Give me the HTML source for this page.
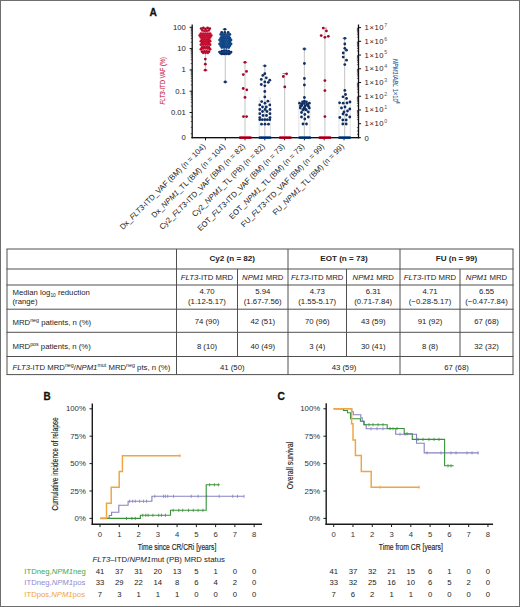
<!DOCTYPE html>
<html><head><meta charset="utf-8"><style>
html,body{margin:0;padding:0;background:#fff;}
body{width:520px;height:607px;overflow:hidden;}
svg{display:block;font-family:"Liberation Sans", sans-serif;}
</style></head><body>
<svg width="520" height="607" viewBox="0 0 520 607">
<rect x="0" y="0" width="520" height="607" fill="#fff"/>
<text transform="translate(149.5,16.2) scale(0.93,1)" font-size="11" font-weight="bold" fill="#111" stroke="#111" stroke-width="0.3">A</text>
<line x1="192.2" y1="24.5" x2="192.2" y2="138.29999999999998" stroke="#111" stroke-width="1.3"/>
<line x1="189.6" y1="27.30" x2="192.2" y2="27.30" stroke="#111" stroke-width="1"/>
<text x="185.89999999999998" y="29.80" font-size="7.7" text-anchor="end" fill="#222">100</text>
<line x1="190.7" y1="42.19" x2="192.2" y2="42.19" stroke="#111" stroke-width="0.6"/>
<line x1="190.7" y1="38.44" x2="192.2" y2="38.44" stroke="#111" stroke-width="0.6"/>
<line x1="190.7" y1="35.78" x2="192.2" y2="35.78" stroke="#111" stroke-width="0.6"/>
<line x1="190.7" y1="33.71" x2="192.2" y2="33.71" stroke="#111" stroke-width="0.6"/>
<line x1="190.7" y1="32.03" x2="192.2" y2="32.03" stroke="#111" stroke-width="0.6"/>
<line x1="190.7" y1="30.60" x2="192.2" y2="30.60" stroke="#111" stroke-width="0.6"/>
<line x1="190.7" y1="29.36" x2="192.2" y2="29.36" stroke="#111" stroke-width="0.6"/>
<line x1="190.7" y1="28.27" x2="192.2" y2="28.27" stroke="#111" stroke-width="0.6"/>
<line x1="189.6" y1="48.60" x2="192.2" y2="48.60" stroke="#111" stroke-width="1"/>
<text x="185.89999999999998" y="51.10" font-size="7.7" text-anchor="end" fill="#222">10</text>
<line x1="190.7" y1="63.49" x2="192.2" y2="63.49" stroke="#111" stroke-width="0.6"/>
<line x1="190.7" y1="59.74" x2="192.2" y2="59.74" stroke="#111" stroke-width="0.6"/>
<line x1="190.7" y1="57.08" x2="192.2" y2="57.08" stroke="#111" stroke-width="0.6"/>
<line x1="190.7" y1="55.01" x2="192.2" y2="55.01" stroke="#111" stroke-width="0.6"/>
<line x1="190.7" y1="53.33" x2="192.2" y2="53.33" stroke="#111" stroke-width="0.6"/>
<line x1="190.7" y1="51.90" x2="192.2" y2="51.90" stroke="#111" stroke-width="0.6"/>
<line x1="190.7" y1="50.66" x2="192.2" y2="50.66" stroke="#111" stroke-width="0.6"/>
<line x1="190.7" y1="49.57" x2="192.2" y2="49.57" stroke="#111" stroke-width="0.6"/>
<line x1="189.6" y1="69.90" x2="192.2" y2="69.90" stroke="#111" stroke-width="1"/>
<text x="185.89999999999998" y="72.40" font-size="7.7" text-anchor="end" fill="#222">1</text>
<line x1="190.7" y1="84.79" x2="192.2" y2="84.79" stroke="#111" stroke-width="0.6"/>
<line x1="190.7" y1="81.04" x2="192.2" y2="81.04" stroke="#111" stroke-width="0.6"/>
<line x1="190.7" y1="78.38" x2="192.2" y2="78.38" stroke="#111" stroke-width="0.6"/>
<line x1="190.7" y1="76.31" x2="192.2" y2="76.31" stroke="#111" stroke-width="0.6"/>
<line x1="190.7" y1="74.63" x2="192.2" y2="74.63" stroke="#111" stroke-width="0.6"/>
<line x1="190.7" y1="73.20" x2="192.2" y2="73.20" stroke="#111" stroke-width="0.6"/>
<line x1="190.7" y1="71.96" x2="192.2" y2="71.96" stroke="#111" stroke-width="0.6"/>
<line x1="190.7" y1="70.87" x2="192.2" y2="70.87" stroke="#111" stroke-width="0.6"/>
<line x1="189.6" y1="91.20" x2="192.2" y2="91.20" stroke="#111" stroke-width="1"/>
<text x="185.89999999999998" y="93.70" font-size="7.7" text-anchor="end" fill="#222">0.1</text>
<line x1="190.7" y1="106.09" x2="192.2" y2="106.09" stroke="#111" stroke-width="0.6"/>
<line x1="190.7" y1="102.34" x2="192.2" y2="102.34" stroke="#111" stroke-width="0.6"/>
<line x1="190.7" y1="99.68" x2="192.2" y2="99.68" stroke="#111" stroke-width="0.6"/>
<line x1="190.7" y1="97.61" x2="192.2" y2="97.61" stroke="#111" stroke-width="0.6"/>
<line x1="190.7" y1="95.93" x2="192.2" y2="95.93" stroke="#111" stroke-width="0.6"/>
<line x1="190.7" y1="94.50" x2="192.2" y2="94.50" stroke="#111" stroke-width="0.6"/>
<line x1="190.7" y1="93.26" x2="192.2" y2="93.26" stroke="#111" stroke-width="0.6"/>
<line x1="190.7" y1="92.17" x2="192.2" y2="92.17" stroke="#111" stroke-width="0.6"/>
<line x1="189.6" y1="112.50" x2="192.2" y2="112.50" stroke="#111" stroke-width="1"/>
<text x="185.89999999999998" y="115.00" font-size="7.7" text-anchor="end" fill="#222">0.01</text>
<text x="185.89999999999998" y="140.20" font-size="7.7" text-anchor="end" fill="#222">0</text>
<line x1="190.7" y1="116.9" x2="192.2" y2="116.9" stroke="#111" stroke-width="0.6"/>
<line x1="190.7" y1="121.5" x2="192.2" y2="121.5" stroke="#111" stroke-width="0.6"/>
<line x1="190.7" y1="127.3" x2="192.2" y2="127.3" stroke="#111" stroke-width="0.6"/>
<line x1="190.7" y1="133.7" x2="192.2" y2="133.7" stroke="#111" stroke-width="0.6"/>
<text transform="translate(165.1,80.8) rotate(-90)" font-size="7.6" text-anchor="middle" fill="#c8203f" stroke="#c8203f" stroke-width="0.12" textLength="47.5" lengthAdjust="spacingAndGlyphs"><tspan font-style="italic">FLT3</tspan>-ITD VAF (%)</text>
<line x1="358.5" y1="24.5" x2="358.5" y2="138.29999999999998" stroke="#111" stroke-width="1.3"/>
<line x1="358.5" y1="123.71" x2="361.1" y2="123.71" stroke="#111" stroke-width="1"/>
<text x="364.5" y="126.21" font-size="7.7" fill="#222" letter-spacing="0.6">1×10<tspan font-size="5.2" dy="-3.2" fill="#555">0</tspan></text>
<line x1="356.9" y1="119.58" x2="358.5" y2="119.58" stroke="#111" stroke-width="0.6"/>
<line x1="356.9" y1="117.16" x2="358.5" y2="117.16" stroke="#111" stroke-width="0.6"/>
<line x1="356.9" y1="115.44" x2="358.5" y2="115.44" stroke="#111" stroke-width="0.6"/>
<line x1="356.9" y1="114.11" x2="358.5" y2="114.11" stroke="#111" stroke-width="0.6"/>
<line x1="356.9" y1="113.03" x2="358.5" y2="113.03" stroke="#111" stroke-width="0.6"/>
<line x1="356.9" y1="112.11" x2="358.5" y2="112.11" stroke="#111" stroke-width="0.6"/>
<line x1="356.9" y1="111.31" x2="358.5" y2="111.31" stroke="#111" stroke-width="0.6"/>
<line x1="356.9" y1="110.61" x2="358.5" y2="110.61" stroke="#111" stroke-width="0.6"/>
<line x1="358.5" y1="109.98" x2="361.1" y2="109.98" stroke="#111" stroke-width="1"/>
<text x="364.5" y="112.48" font-size="7.7" fill="#222" letter-spacing="0.6">1×10<tspan font-size="5.2" dy="-3.2" fill="#555">1</tspan></text>
<line x1="356.9" y1="105.85" x2="358.5" y2="105.85" stroke="#111" stroke-width="0.6"/>
<line x1="356.9" y1="103.43" x2="358.5" y2="103.43" stroke="#111" stroke-width="0.6"/>
<line x1="356.9" y1="101.71" x2="358.5" y2="101.71" stroke="#111" stroke-width="0.6"/>
<line x1="356.9" y1="100.38" x2="358.5" y2="100.38" stroke="#111" stroke-width="0.6"/>
<line x1="356.9" y1="99.30" x2="358.5" y2="99.30" stroke="#111" stroke-width="0.6"/>
<line x1="356.9" y1="98.38" x2="358.5" y2="98.38" stroke="#111" stroke-width="0.6"/>
<line x1="356.9" y1="97.58" x2="358.5" y2="97.58" stroke="#111" stroke-width="0.6"/>
<line x1="356.9" y1="96.88" x2="358.5" y2="96.88" stroke="#111" stroke-width="0.6"/>
<line x1="358.5" y1="96.25" x2="361.1" y2="96.25" stroke="#111" stroke-width="1"/>
<text x="364.5" y="98.75" font-size="7.7" fill="#222" letter-spacing="0.6">1×10<tspan font-size="5.2" dy="-3.2" fill="#555">2</tspan></text>
<line x1="356.9" y1="92.12" x2="358.5" y2="92.12" stroke="#111" stroke-width="0.6"/>
<line x1="356.9" y1="89.70" x2="358.5" y2="89.70" stroke="#111" stroke-width="0.6"/>
<line x1="356.9" y1="87.98" x2="358.5" y2="87.98" stroke="#111" stroke-width="0.6"/>
<line x1="356.9" y1="86.65" x2="358.5" y2="86.65" stroke="#111" stroke-width="0.6"/>
<line x1="356.9" y1="85.57" x2="358.5" y2="85.57" stroke="#111" stroke-width="0.6"/>
<line x1="356.9" y1="84.65" x2="358.5" y2="84.65" stroke="#111" stroke-width="0.6"/>
<line x1="356.9" y1="83.85" x2="358.5" y2="83.85" stroke="#111" stroke-width="0.6"/>
<line x1="356.9" y1="83.15" x2="358.5" y2="83.15" stroke="#111" stroke-width="0.6"/>
<line x1="358.5" y1="82.52" x2="361.1" y2="82.52" stroke="#111" stroke-width="1"/>
<text x="364.5" y="85.02" font-size="7.7" fill="#222" letter-spacing="0.6">1×10<tspan font-size="5.2" dy="-3.2" fill="#555">3</tspan></text>
<line x1="356.9" y1="78.39" x2="358.5" y2="78.39" stroke="#111" stroke-width="0.6"/>
<line x1="356.9" y1="75.97" x2="358.5" y2="75.97" stroke="#111" stroke-width="0.6"/>
<line x1="356.9" y1="74.25" x2="358.5" y2="74.25" stroke="#111" stroke-width="0.6"/>
<line x1="356.9" y1="72.92" x2="358.5" y2="72.92" stroke="#111" stroke-width="0.6"/>
<line x1="356.9" y1="71.84" x2="358.5" y2="71.84" stroke="#111" stroke-width="0.6"/>
<line x1="356.9" y1="70.92" x2="358.5" y2="70.92" stroke="#111" stroke-width="0.6"/>
<line x1="356.9" y1="70.12" x2="358.5" y2="70.12" stroke="#111" stroke-width="0.6"/>
<line x1="356.9" y1="69.42" x2="358.5" y2="69.42" stroke="#111" stroke-width="0.6"/>
<line x1="358.5" y1="68.79" x2="361.1" y2="68.79" stroke="#111" stroke-width="1"/>
<text x="364.5" y="71.29" font-size="7.7" fill="#222" letter-spacing="0.6">1×10<tspan font-size="5.2" dy="-3.2" fill="#555">4</tspan></text>
<line x1="356.9" y1="64.66" x2="358.5" y2="64.66" stroke="#111" stroke-width="0.6"/>
<line x1="356.9" y1="62.24" x2="358.5" y2="62.24" stroke="#111" stroke-width="0.6"/>
<line x1="356.9" y1="60.52" x2="358.5" y2="60.52" stroke="#111" stroke-width="0.6"/>
<line x1="356.9" y1="59.19" x2="358.5" y2="59.19" stroke="#111" stroke-width="0.6"/>
<line x1="356.9" y1="58.11" x2="358.5" y2="58.11" stroke="#111" stroke-width="0.6"/>
<line x1="356.9" y1="57.19" x2="358.5" y2="57.19" stroke="#111" stroke-width="0.6"/>
<line x1="356.9" y1="56.39" x2="358.5" y2="56.39" stroke="#111" stroke-width="0.6"/>
<line x1="356.9" y1="55.69" x2="358.5" y2="55.69" stroke="#111" stroke-width="0.6"/>
<line x1="358.5" y1="55.06" x2="361.1" y2="55.06" stroke="#111" stroke-width="1"/>
<text x="364.5" y="57.56" font-size="7.7" fill="#222" letter-spacing="0.6">1×10<tspan font-size="5.2" dy="-3.2" fill="#555">5</tspan></text>
<line x1="356.9" y1="50.93" x2="358.5" y2="50.93" stroke="#111" stroke-width="0.6"/>
<line x1="356.9" y1="48.51" x2="358.5" y2="48.51" stroke="#111" stroke-width="0.6"/>
<line x1="356.9" y1="46.79" x2="358.5" y2="46.79" stroke="#111" stroke-width="0.6"/>
<line x1="356.9" y1="45.46" x2="358.5" y2="45.46" stroke="#111" stroke-width="0.6"/>
<line x1="356.9" y1="44.38" x2="358.5" y2="44.38" stroke="#111" stroke-width="0.6"/>
<line x1="356.9" y1="43.46" x2="358.5" y2="43.46" stroke="#111" stroke-width="0.6"/>
<line x1="356.9" y1="42.66" x2="358.5" y2="42.66" stroke="#111" stroke-width="0.6"/>
<line x1="356.9" y1="41.96" x2="358.5" y2="41.96" stroke="#111" stroke-width="0.6"/>
<line x1="358.5" y1="41.33" x2="361.1" y2="41.33" stroke="#111" stroke-width="1"/>
<text x="364.5" y="43.83" font-size="7.7" fill="#222" letter-spacing="0.6">1×10<tspan font-size="5.2" dy="-3.2" fill="#555">6</tspan></text>
<line x1="356.9" y1="37.20" x2="358.5" y2="37.20" stroke="#111" stroke-width="0.6"/>
<line x1="356.9" y1="34.78" x2="358.5" y2="34.78" stroke="#111" stroke-width="0.6"/>
<line x1="356.9" y1="33.06" x2="358.5" y2="33.06" stroke="#111" stroke-width="0.6"/>
<line x1="356.9" y1="31.73" x2="358.5" y2="31.73" stroke="#111" stroke-width="0.6"/>
<line x1="356.9" y1="30.65" x2="358.5" y2="30.65" stroke="#111" stroke-width="0.6"/>
<line x1="356.9" y1="29.73" x2="358.5" y2="29.73" stroke="#111" stroke-width="0.6"/>
<line x1="356.9" y1="28.93" x2="358.5" y2="28.93" stroke="#111" stroke-width="0.6"/>
<line x1="356.9" y1="28.23" x2="358.5" y2="28.23" stroke="#111" stroke-width="0.6"/>
<line x1="358.5" y1="27.60" x2="361.1" y2="27.60" stroke="#111" stroke-width="1"/>
<text x="364.5" y="30.10" font-size="7.7" fill="#222" letter-spacing="0.6">1×10<tspan font-size="5.2" dy="-3.2" fill="#555">7</tspan></text>
<text x="364.5" y="140.50" font-size="7.7" fill="#222">0</text>
<line x1="358.5" y1="137.7" x2="360.9" y2="137.7" stroke="#111" stroke-width="1"/>
<line x1="356.9" y1="127.6" x2="358.5" y2="127.6" stroke="#111" stroke-width="0.6"/>
<line x1="356.9" y1="131.0" x2="358.5" y2="131.0" stroke="#111" stroke-width="0.6"/>
<line x1="356.9" y1="134.4" x2="358.5" y2="134.4" stroke="#111" stroke-width="0.6"/>
<text transform="translate(393.3,81.3) rotate(90)" font-size="7.6" text-anchor="middle" fill="#2d5d9f" stroke="#2d5d9f" stroke-width="0.12" textLength="45" lengthAdjust="spacingAndGlyphs"><tspan font-style="italic">NPM1</tspan>/<tspan font-style="italic">ABL</tspan> 1×10<tspan font-size="5.2" dy="-2.8">4</tspan></text>
<line x1="191.54999999999998" y1="137.7" x2="359.15" y2="137.7" stroke="#111" stroke-width="1.3"/>
<line x1="205.5" y1="137.7" x2="205.5" y2="140.29999999999998" stroke="#111" stroke-width="1"/>
<line x1="225.3" y1="137.7" x2="225.3" y2="140.29999999999998" stroke="#111" stroke-width="1"/>
<line x1="245.0" y1="137.7" x2="245.0" y2="140.29999999999998" stroke="#111" stroke-width="1"/>
<line x1="264.8" y1="137.7" x2="264.8" y2="140.29999999999998" stroke="#111" stroke-width="1"/>
<line x1="284.6" y1="137.7" x2="284.6" y2="140.29999999999998" stroke="#111" stroke-width="1"/>
<line x1="304.4" y1="137.7" x2="304.4" y2="140.29999999999998" stroke="#111" stroke-width="1"/>
<line x1="324.2" y1="137.7" x2="324.2" y2="140.29999999999998" stroke="#111" stroke-width="1"/>
<line x1="344.0" y1="137.7" x2="344.0" y2="140.29999999999998" stroke="#111" stroke-width="1"/>
<text transform="translate(206.0,147.0) rotate(-45)" font-size="7.75" text-anchor="end" fill="#222">Dx_<tspan font-style="italic">FLT3</tspan>-ITD_VAF (BM) (n = 104)</text>
<text transform="translate(225.8,147.0) rotate(-45)" font-size="7.75" text-anchor="end" fill="#222">Dx_<tspan font-style="italic">NPM1</tspan>_TL (BM) (n = 104)</text>
<text transform="translate(245.5,147.0) rotate(-45)" font-size="7.75" text-anchor="end" fill="#222">Cy2_<tspan font-style="italic">FLT3</tspan>-ITD_VAF (BM) (n = 82)</text>
<text transform="translate(265.3,147.0) rotate(-45)" font-size="7.75" text-anchor="end" fill="#222">Cy2_<tspan font-style="italic">NPM1</tspan>_TL (PB) (n = 82)</text>
<text transform="translate(285.1,147.0) rotate(-45)" font-size="7.75" text-anchor="end" fill="#222">EOT_<tspan font-style="italic">FLT3</tspan>-ITD_VAF (BM) (n = 73)</text>
<text transform="translate(304.9,147.0) rotate(-45)" font-size="7.75" text-anchor="end" fill="#222">EOT_<tspan font-style="italic">NPM1</tspan>_TL (BM) (n = 73)</text>
<text transform="translate(324.7,147.0) rotate(-45)" font-size="7.75" text-anchor="end" fill="#222">FU_<tspan font-style="italic">FLT3</tspan>-ITD_VAF (BM) (n = 99)</text>
<text transform="translate(344.5,147.0) rotate(-45)" font-size="7.75" text-anchor="end" fill="#222">FU_<tspan font-style="italic">NPM1</tspan>_TL (BM) (n = 99)</text>
<line x1="205.50" y1="53.00" x2="205.50" y2="70.20" stroke="#cdcdcd" stroke-width="1.2"/>
<line x1="225.30" y1="54.00" x2="225.30" y2="82.00" stroke="#cdcdcd" stroke-width="1.2"/>
<line x1="245.00" y1="62.30" x2="245.00" y2="137.70" stroke="#cdcdcd" stroke-width="1.2"/>
<line x1="264.80" y1="65.80" x2="264.80" y2="137.70" stroke="#cdcdcd" stroke-width="1.2"/>
<line x1="284.60" y1="73.50" x2="284.60" y2="137.70" stroke="#cdcdcd" stroke-width="1.2"/>
<line x1="304.40" y1="49.00" x2="304.40" y2="137.70" stroke="#cdcdcd" stroke-width="1.2"/>
<line x1="324.90" y1="28.00" x2="324.90" y2="137.70" stroke="#cdcdcd" stroke-width="1.2"/>
<line x1="344.60" y1="38.30" x2="344.60" y2="137.70" stroke="#cdcdcd" stroke-width="1.2"/>
<line x1="259.20" y1="97.00" x2="259.20" y2="137.70" stroke="#d6d6d6" stroke-width="0.7"/>
<line x1="270.40" y1="97.00" x2="270.40" y2="137.70" stroke="#d6d6d6" stroke-width="0.7"/>
<line x1="298.80" y1="100.00" x2="298.80" y2="137.70" stroke="#d6d6d6" stroke-width="0.7"/>
<line x1="310.00" y1="100.00" x2="310.00" y2="137.70" stroke="#d6d6d6" stroke-width="0.7"/>
<line x1="339.00" y1="100.00" x2="339.00" y2="137.70" stroke="#d6d6d6" stroke-width="0.7"/>
<line x1="350.20" y1="100.00" x2="350.20" y2="137.70" stroke="#d6d6d6" stroke-width="0.7"/>
<circle cx="201.20" cy="28.60" r="1.4" fill="#a3082c"/>
<circle cx="203.40" cy="27.90" r="1.4" fill="#a3082c"/>
<circle cx="205.50" cy="28.90" r="1.4" fill="#a3082c"/>
<circle cx="207.60" cy="27.90" r="1.4" fill="#a3082c"/>
<circle cx="209.80" cy="28.60" r="1.4" fill="#a3082c"/>
<circle cx="202.30" cy="30.40" r="1.4" fill="#c40c2e"/>
<circle cx="204.40" cy="30.90" r="1.4" fill="#c40c2e"/>
<circle cx="206.60" cy="30.90" r="1.4" fill="#c40c2e"/>
<circle cx="208.70" cy="30.40" r="1.4" fill="#c40c2e"/>
<circle cx="200.90" cy="33.60" r="1.4" fill="#c40c2e"/>
<circle cx="203.20" cy="33.60" r="1.4" fill="#c40c2e"/>
<circle cx="205.50" cy="33.60" r="1.4" fill="#c40c2e"/>
<circle cx="207.80" cy="33.60" r="1.4" fill="#c40c2e"/>
<circle cx="210.10" cy="33.60" r="1.4" fill="#c40c2e"/>
<circle cx="199.75" cy="35.50" r="1.4" fill="#c40c2e"/>
<circle cx="202.05" cy="35.50" r="1.4" fill="#c40c2e"/>
<circle cx="204.35" cy="35.50" r="1.4" fill="#c40c2e"/>
<circle cx="206.65" cy="35.50" r="1.4" fill="#c40c2e"/>
<circle cx="208.95" cy="35.50" r="1.4" fill="#c40c2e"/>
<circle cx="211.25" cy="35.50" r="1.4" fill="#c40c2e"/>
<circle cx="200.90" cy="37.40" r="1.4" fill="#c40c2e"/>
<circle cx="203.20" cy="37.40" r="1.4" fill="#c40c2e"/>
<circle cx="205.50" cy="37.40" r="1.4" fill="#c40c2e"/>
<circle cx="207.80" cy="37.40" r="1.4" fill="#c40c2e"/>
<circle cx="210.10" cy="37.40" r="1.4" fill="#c40c2e"/>
<circle cx="202.05" cy="39.30" r="1.4" fill="#c40c2e"/>
<circle cx="204.35" cy="39.30" r="1.4" fill="#c40c2e"/>
<circle cx="206.65" cy="39.30" r="1.4" fill="#c40c2e"/>
<circle cx="208.95" cy="39.30" r="1.4" fill="#c40c2e"/>
<circle cx="200.90" cy="41.20" r="1.4" fill="#c40c2e"/>
<circle cx="203.20" cy="41.20" r="1.4" fill="#c40c2e"/>
<circle cx="205.50" cy="41.20" r="1.4" fill="#c40c2e"/>
<circle cx="207.80" cy="41.20" r="1.4" fill="#c40c2e"/>
<circle cx="210.10" cy="41.20" r="1.4" fill="#c40c2e"/>
<circle cx="202.05" cy="43.00" r="1.4" fill="#c40c2e"/>
<circle cx="204.35" cy="43.00" r="1.4" fill="#c40c2e"/>
<circle cx="206.65" cy="43.00" r="1.4" fill="#c40c2e"/>
<circle cx="208.95" cy="43.00" r="1.4" fill="#c40c2e"/>
<circle cx="200.90" cy="44.70" r="1.4" fill="#c40c2e"/>
<circle cx="203.20" cy="44.70" r="1.4" fill="#c40c2e"/>
<circle cx="205.50" cy="44.70" r="1.4" fill="#c40c2e"/>
<circle cx="207.80" cy="44.70" r="1.4" fill="#c40c2e"/>
<circle cx="210.10" cy="44.70" r="1.4" fill="#c40c2e"/>
<circle cx="202.05" cy="47.48" r="1.4" fill="#a3082c"/>
<circle cx="204.35" cy="47.05" r="1.4" fill="#a3082c"/>
<circle cx="206.65" cy="47.05" r="1.4" fill="#a3082c"/>
<circle cx="208.95" cy="47.48" r="1.4" fill="#a3082c"/>
<circle cx="200.90" cy="49.25" r="1.4" fill="#c40c2e"/>
<circle cx="203.20" cy="48.61" r="1.4" fill="#c40c2e"/>
<circle cx="205.50" cy="48.40" r="1.4" fill="#c40c2e"/>
<circle cx="207.80" cy="48.61" r="1.4" fill="#c40c2e"/>
<circle cx="210.10" cy="49.25" r="1.4" fill="#c40c2e"/>
<circle cx="202.05" cy="51.64" r="1.4" fill="#a3082c"/>
<circle cx="204.35" cy="51.43" r="1.4" fill="#a3082c"/>
<circle cx="206.65" cy="51.43" r="1.4" fill="#a3082c"/>
<circle cx="208.95" cy="51.64" r="1.4" fill="#a3082c"/>
<circle cx="203.20" cy="52.80" r="1.4" fill="#c40c2e"/>
<circle cx="205.50" cy="52.80" r="1.4" fill="#c40c2e"/>
<circle cx="207.80" cy="52.80" r="1.4" fill="#c40c2e"/>
<circle cx="205.30" cy="59.10" r="1.4" fill="#a3082c"/>
<circle cx="205.30" cy="64.20" r="1.4" fill="#a3082c"/>
<circle cx="205.30" cy="70.20" r="1.4" fill="#a3082c"/>
<line x1="203.30" y1="70.20" x2="207.70" y2="70.20" stroke="#c40c2e" stroke-width="0.6"/>
<circle cx="224.80" cy="29.30" r="1.4" fill="#0f2e62"/>
<line x1="222.60" y1="29.30" x2="227.00" y2="29.30" stroke="#0f2e62" stroke-width="0.6"/>
<circle cx="221.70" cy="32.40" r="1.4" fill="#0f2e62"/>
<circle cx="224.80" cy="32.40" r="1.4" fill="#0f2e62"/>
<circle cx="228.20" cy="32.40" r="1.4" fill="#0f2e62"/>
<circle cx="220.70" cy="34.40" r="1.4" fill="#104687"/>
<circle cx="223.00" cy="34.40" r="1.4" fill="#104687"/>
<circle cx="225.30" cy="34.40" r="1.4" fill="#104687"/>
<circle cx="227.60" cy="34.40" r="1.4" fill="#104687"/>
<circle cx="229.90" cy="34.40" r="1.4" fill="#104687"/>
<circle cx="221.85" cy="36.30" r="1.4" fill="#104687"/>
<circle cx="224.15" cy="36.30" r="1.4" fill="#104687"/>
<circle cx="226.45" cy="36.30" r="1.4" fill="#104687"/>
<circle cx="228.75" cy="36.30" r="1.4" fill="#104687"/>
<circle cx="220.70" cy="38.20" r="1.4" fill="#104687"/>
<circle cx="223.00" cy="38.20" r="1.4" fill="#104687"/>
<circle cx="225.30" cy="38.20" r="1.4" fill="#104687"/>
<circle cx="227.60" cy="38.20" r="1.4" fill="#104687"/>
<circle cx="229.90" cy="38.20" r="1.4" fill="#104687"/>
<circle cx="219.55" cy="40.10" r="1.4" fill="#104687"/>
<circle cx="221.85" cy="40.10" r="1.4" fill="#104687"/>
<circle cx="224.15" cy="40.10" r="1.4" fill="#104687"/>
<circle cx="226.45" cy="40.10" r="1.4" fill="#104687"/>
<circle cx="228.75" cy="40.10" r="1.4" fill="#104687"/>
<circle cx="231.05" cy="40.10" r="1.4" fill="#104687"/>
<circle cx="220.70" cy="42.00" r="1.4" fill="#104687"/>
<circle cx="223.00" cy="42.00" r="1.4" fill="#104687"/>
<circle cx="225.30" cy="42.00" r="1.4" fill="#104687"/>
<circle cx="227.60" cy="42.00" r="1.4" fill="#104687"/>
<circle cx="229.90" cy="42.00" r="1.4" fill="#104687"/>
<circle cx="219.55" cy="43.90" r="1.4" fill="#104687"/>
<circle cx="221.85" cy="43.90" r="1.4" fill="#104687"/>
<circle cx="224.15" cy="43.90" r="1.4" fill="#104687"/>
<circle cx="226.45" cy="43.90" r="1.4" fill="#104687"/>
<circle cx="228.75" cy="43.90" r="1.4" fill="#104687"/>
<circle cx="231.05" cy="43.90" r="1.4" fill="#104687"/>
<circle cx="220.70" cy="45.80" r="1.4" fill="#104687"/>
<circle cx="223.00" cy="45.80" r="1.4" fill="#104687"/>
<circle cx="225.30" cy="45.80" r="1.4" fill="#104687"/>
<circle cx="227.60" cy="45.80" r="1.4" fill="#104687"/>
<circle cx="229.90" cy="45.80" r="1.4" fill="#104687"/>
<circle cx="221.85" cy="47.50" r="1.4" fill="#104687"/>
<circle cx="224.15" cy="47.50" r="1.4" fill="#104687"/>
<circle cx="226.45" cy="47.50" r="1.4" fill="#104687"/>
<circle cx="228.75" cy="47.50" r="1.4" fill="#104687"/>
<circle cx="219.55" cy="52.09" r="1.4" fill="#0f2e62"/>
<circle cx="221.85" cy="51.14" r="1.4" fill="#0f2e62"/>
<circle cx="224.15" cy="50.66" r="1.4" fill="#0f2e62"/>
<circle cx="226.45" cy="50.66" r="1.4" fill="#0f2e62"/>
<circle cx="228.75" cy="51.14" r="1.4" fill="#0f2e62"/>
<circle cx="231.05" cy="52.09" r="1.4" fill="#0f2e62"/>
<circle cx="220.70" cy="53.25" r="1.4" fill="#104687"/>
<circle cx="223.00" cy="52.54" r="1.4" fill="#104687"/>
<circle cx="225.30" cy="52.30" r="1.4" fill="#104687"/>
<circle cx="227.60" cy="52.54" r="1.4" fill="#104687"/>
<circle cx="229.90" cy="53.25" r="1.4" fill="#104687"/>
<circle cx="221.85" cy="53.90" r="1.4" fill="#0f2e62"/>
<circle cx="224.15" cy="53.90" r="1.4" fill="#0f2e62"/>
<circle cx="226.45" cy="53.90" r="1.4" fill="#0f2e62"/>
<circle cx="228.75" cy="53.90" r="1.4" fill="#0f2e62"/>
<circle cx="225.30" cy="82.00" r="1.4" fill="#0f2e62"/>
<line x1="223.10" y1="82.00" x2="227.50" y2="82.00" stroke="#0f2e62" stroke-width="0.6"/>
<circle cx="245.00" cy="62.30" r="1.4" fill="#a3082c"/>
<circle cx="246.50" cy="71.40" r="1.4" fill="#a3082c"/>
<circle cx="243.30" cy="74.60" r="1.4" fill="#a3082c"/>
<circle cx="243.20" cy="88.50" r="1.4" fill="#a3082c"/>
<circle cx="246.80" cy="89.80" r="1.4" fill="#a3082c"/>
<circle cx="245.00" cy="97.40" r="1.4" fill="#a3082c"/>
<circle cx="243.50" cy="116.60" r="1.4" fill="#a3082c"/>
<circle cx="246.60" cy="116.60" r="1.4" fill="#a3082c"/>
<line x1="242.80" y1="62.30" x2="247.20" y2="62.30" stroke="#c40c2e" stroke-width="0.6"/>
<circle cx="264.80" cy="65.80" r="1.4" fill="#0f2e62"/>
<circle cx="264.80" cy="73.70" r="1.4" fill="#0f2e62"/>
<circle cx="262.80" cy="75.40" r="1.4" fill="#0f2e62"/>
<circle cx="266.30" cy="77.80" r="1.4" fill="#0f2e62"/>
<circle cx="261.30" cy="79.40" r="1.4" fill="#0f2e62"/>
<circle cx="269.80" cy="80.20" r="1.4" fill="#0f2e62"/>
<circle cx="264.80" cy="81.90" r="1.4" fill="#0f2e62"/>
<circle cx="268.30" cy="82.30" r="1.4" fill="#0f2e62"/>
<circle cx="261.30" cy="84.50" r="1.4" fill="#0f2e62"/>
<circle cx="264.80" cy="85.80" r="1.4" fill="#0f2e62"/>
<circle cx="264.80" cy="91.50" r="1.4" fill="#0f2e62"/>
<circle cx="264.80" cy="96.90" r="1.4" fill="#0f2e62"/>
<circle cx="261.70" cy="101.60" r="1.4" fill="#0f2e62"/>
<circle cx="267.90" cy="101.20" r="1.4" fill="#0f2e62"/>
<circle cx="265.00" cy="103.20" r="1.4" fill="#0f2e62"/>
<circle cx="259.80" cy="104.90" r="1.4" fill="#0f2e62"/>
<circle cx="269.80" cy="104.90" r="1.4" fill="#0f2e62"/>
<circle cx="262.50" cy="107.00" r="1.4" fill="#0f2e62"/>
<circle cx="266.30" cy="107.00" r="1.4" fill="#0f2e62"/>
<circle cx="259.80" cy="109.50" r="1.4" fill="#0f2e62"/>
<circle cx="265.10" cy="109.50" r="1.4" fill="#0f2e62"/>
<circle cx="270.00" cy="109.50" r="1.4" fill="#0f2e62"/>
<circle cx="262.50" cy="111.50" r="1.4" fill="#0f2e62"/>
<circle cx="267.00" cy="111.50" r="1.4" fill="#0f2e62"/>
<circle cx="259.80" cy="113.70" r="1.4" fill="#0f2e62"/>
<circle cx="270.00" cy="113.70" r="1.4" fill="#0f2e62"/>
<circle cx="263.00" cy="115.50" r="1.4" fill="#0f2e62"/>
<circle cx="266.50" cy="115.50" r="1.4" fill="#0f2e62"/>
<circle cx="259.80" cy="117.60" r="1.4" fill="#0f2e62"/>
<circle cx="270.00" cy="117.60" r="1.4" fill="#0f2e62"/>
<circle cx="259.80" cy="119.70" r="1.4" fill="#0f2e62"/>
<circle cx="262.30" cy="119.70" r="1.4" fill="#0f2e62"/>
<circle cx="264.80" cy="119.70" r="1.4" fill="#0f2e62"/>
<circle cx="267.30" cy="119.70" r="1.4" fill="#0f2e62"/>
<circle cx="269.80" cy="119.70" r="1.4" fill="#0f2e62"/>
<circle cx="261.50" cy="124.20" r="1.4" fill="#0f2e62"/>
<circle cx="265.00" cy="124.20" r="1.4" fill="#0f2e62"/>
<circle cx="268.50" cy="124.20" r="1.4" fill="#0f2e62"/>
<line x1="262.60" y1="65.80" x2="267.00" y2="65.80" stroke="#104687" stroke-width="0.6"/>
<circle cx="286.60" cy="73.80" r="1.4" fill="#a3082c"/>
<circle cx="283.30" cy="76.50" r="1.4" fill="#a3082c"/>
<circle cx="284.80" cy="86.90" r="1.4" fill="#a3082c"/>
<line x1="282.40" y1="73.50" x2="286.80" y2="73.50" stroke="#c40c2e" stroke-width="0.6"/>
<circle cx="304.40" cy="49.00" r="1.4" fill="#0f2e62"/>
<circle cx="304.40" cy="63.50" r="1.4" fill="#0f2e62"/>
<circle cx="304.40" cy="78.50" r="1.4" fill="#0f2e62"/>
<circle cx="304.40" cy="85.00" r="1.4" fill="#0f2e62"/>
<circle cx="304.40" cy="97.50" r="1.4" fill="#0f2e62"/>
<circle cx="304.40" cy="101.20" r="1.4" fill="#0f2e62"/>
<circle cx="299.50" cy="103.20" r="1.4" fill="#0f2e62"/>
<circle cx="304.40" cy="103.50" r="1.4" fill="#0f2e62"/>
<circle cx="309.30" cy="103.20" r="1.4" fill="#0f2e62"/>
<circle cx="301.80" cy="105.50" r="1.4" fill="#0f2e62"/>
<circle cx="305.30" cy="106.00" r="1.4" fill="#0f2e62"/>
<circle cx="307.80" cy="105.00" r="1.4" fill="#0f2e62"/>
<circle cx="300.30" cy="108.00" r="1.4" fill="#0f2e62"/>
<circle cx="303.80" cy="108.50" r="1.4" fill="#0f2e62"/>
<circle cx="309.30" cy="108.00" r="1.4" fill="#0f2e62"/>
<circle cx="302.80" cy="110.00" r="1.4" fill="#0f2e62"/>
<circle cx="306.30" cy="110.00" r="1.4" fill="#0f2e62"/>
<circle cx="301.50" cy="112.50" r="1.4" fill="#0f2e62"/>
<circle cx="308.30" cy="112.00" r="1.4" fill="#0f2e62"/>
<circle cx="304.80" cy="114.50" r="1.4" fill="#0f2e62"/>
<circle cx="301.50" cy="117.00" r="1.4" fill="#0f2e62"/>
<circle cx="308.30" cy="117.00" r="1.4" fill="#0f2e62"/>
<circle cx="304.80" cy="119.00" r="1.4" fill="#0f2e62"/>
<circle cx="303.00" cy="124.00" r="1.4" fill="#0f2e62"/>
<circle cx="306.50" cy="124.00" r="1.4" fill="#0f2e62"/>
<circle cx="302.50" cy="102.00" r="1.4" fill="#0f2e62"/>
<circle cx="306.50" cy="102.00" r="1.4" fill="#0f2e62"/>
<circle cx="300.50" cy="106.00" r="1.4" fill="#0f2e62"/>
<circle cx="308.50" cy="106.50" r="1.4" fill="#0f2e62"/>
<circle cx="304.40" cy="107.50" r="1.4" fill="#0f2e62"/>
<circle cx="302.00" cy="104.20" r="1.4" fill="#0f2e62"/>
<circle cx="307.00" cy="104.50" r="1.4" fill="#0f2e62"/>
<circle cx="305.50" cy="109.50" r="1.4" fill="#0f2e62"/>
<line x1="302.20" y1="49.00" x2="306.60" y2="49.00" stroke="#104687" stroke-width="0.6"/>
<circle cx="323.20" cy="28.10" r="1.4" fill="#a3082c"/>
<circle cx="326.40" cy="30.90" r="1.4" fill="#a3082c"/>
<circle cx="321.20" cy="35.60" r="1.4" fill="#a3082c"/>
<circle cx="324.90" cy="37.30" r="1.4" fill="#a3082c"/>
<circle cx="328.30" cy="36.30" r="1.4" fill="#a3082c"/>
<circle cx="324.90" cy="80.60" r="1.4" fill="#a3082c"/>
<circle cx="324.90" cy="90.60" r="1.4" fill="#a3082c"/>
<circle cx="324.90" cy="116.60" r="1.4" fill="#a3082c"/>
<line x1="322.40" y1="28.10" x2="326.80" y2="28.10" stroke="#c40c2e" stroke-width="0.6"/>
<circle cx="344.80" cy="38.30" r="1.4" fill="#0f2e62"/>
<circle cx="344.80" cy="44.00" r="1.4" fill="#0f2e62"/>
<circle cx="344.80" cy="48.30" r="1.4" fill="#0f2e62"/>
<circle cx="346.50" cy="50.20" r="1.4" fill="#0f2e62"/>
<circle cx="343.20" cy="53.00" r="1.4" fill="#0f2e62"/>
<circle cx="343.20" cy="57.10" r="1.4" fill="#0f2e62"/>
<circle cx="346.50" cy="60.20" r="1.4" fill="#0f2e62"/>
<circle cx="344.80" cy="64.60" r="1.4" fill="#0f2e62"/>
<circle cx="344.80" cy="90.40" r="1.4" fill="#0f2e62"/>
<circle cx="345.50" cy="94.50" r="1.4" fill="#0f2e62"/>
<circle cx="343.00" cy="96.80" r="1.4" fill="#0f2e62"/>
<circle cx="346.50" cy="98.50" r="1.4" fill="#0f2e62"/>
<circle cx="339.60" cy="102.80" r="1.4" fill="#0f2e62"/>
<circle cx="343.20" cy="103.20" r="1.4" fill="#0f2e62"/>
<circle cx="347.00" cy="103.00" r="1.4" fill="#0f2e62"/>
<circle cx="350.00" cy="102.00" r="1.4" fill="#0f2e62"/>
<circle cx="341.50" cy="108.00" r="1.4" fill="#0f2e62"/>
<circle cx="345.00" cy="107.00" r="1.4" fill="#0f2e62"/>
<circle cx="349.80" cy="109.00" r="1.4" fill="#0f2e62"/>
<circle cx="344.00" cy="112.00" r="1.4" fill="#0f2e62"/>
<circle cx="347.50" cy="111.00" r="1.4" fill="#0f2e62"/>
<circle cx="343.00" cy="114.00" r="1.4" fill="#0f2e62"/>
<circle cx="346.50" cy="115.00" r="1.4" fill="#0f2e62"/>
<circle cx="339.80" cy="117.50" r="1.4" fill="#0f2e62"/>
<circle cx="349.80" cy="117.00" r="1.4" fill="#0f2e62"/>
<circle cx="342.80" cy="120.00" r="1.4" fill="#0f2e62"/>
<circle cx="346.20" cy="120.00" r="1.4" fill="#0f2e62"/>
<circle cx="342.80" cy="124.00" r="1.4" fill="#0f2e62"/>
<circle cx="346.20" cy="124.00" r="1.4" fill="#0f2e62"/>
<line x1="342.60" y1="38.30" x2="347.00" y2="38.30" stroke="#104687" stroke-width="0.6"/>
<rect x="238.80" y="136.30" width="13.00" height="2.8" rx="1.3" fill="#c40c2e"/>
<rect x="258.50" y="136.30" width="13.00" height="2.8" rx="1.3" fill="#104687"/>
<rect x="278.80" y="136.30" width="13.00" height="2.8" rx="1.3" fill="#c40c2e"/>
<rect x="298.30" y="136.30" width="13.00" height="2.8" rx="1.3" fill="#104687"/>
<rect x="318.40" y="136.30" width="13.00" height="2.8" rx="1.3" fill="#c40c2e"/>
<rect x="338.10" y="136.30" width="13.00" height="2.8" rx="1.3" fill="#104687"/>
<line x1="191.54999999999998" y1="137.7" x2="359.15" y2="137.7" stroke="#111" stroke-width="0.9" opacity="0.8"/>
<line x1="6.5" y1="249" x2="513.5" y2="249" stroke="#505050" stroke-width="1"/>
<line x1="6.5" y1="269" x2="513.5" y2="269" stroke="#505050" stroke-width="1"/>
<line x1="6.5" y1="285" x2="513.5" y2="285" stroke="#505050" stroke-width="1"/>
<line x1="6.5" y1="309.2" x2="513.5" y2="309.2" stroke="#505050" stroke-width="1"/>
<line x1="6.5" y1="332.3" x2="513.5" y2="332.3" stroke="#505050" stroke-width="1"/>
<line x1="6.5" y1="356.5" x2="513.5" y2="356.5" stroke="#505050" stroke-width="1"/>
<line x1="6.5" y1="374.6" x2="513.5" y2="374.6" stroke="#505050" stroke-width="1"/>
<line x1="7" y1="249" x2="7" y2="374.6" stroke="#505050" stroke-width="1"/>
<line x1="176.5" y1="249" x2="176.5" y2="374.6" stroke="#505050" stroke-width="1"/>
<line x1="288" y1="249" x2="288" y2="374.6" stroke="#505050" stroke-width="1"/>
<line x1="400" y1="249" x2="400" y2="374.6" stroke="#505050" stroke-width="1"/>
<line x1="513" y1="249" x2="513" y2="374.6" stroke="#505050" stroke-width="1"/>
<line x1="237.5" y1="269" x2="237.5" y2="356.5" stroke="#505050" stroke-width="1"/>
<line x1="346.5" y1="269" x2="346.5" y2="356.5" stroke="#505050" stroke-width="1"/>
<line x1="460" y1="269" x2="460" y2="356.5" stroke="#505050" stroke-width="1"/>
<text x="232.25" y="261.30" font-size="8.1" text-anchor="middle" fill="#222" font-weight="bold">Cy2 (n = 82)</text>
<text x="344.00" y="261.30" font-size="8.1" text-anchor="middle" fill="#222" font-weight="bold">EOT (n = 73)</text>
<text x="456.50" y="261.30" font-size="8.1" text-anchor="middle" fill="#222" font-weight="bold">FU (n = 99)</text>
<text x="207.00" y="279.50" font-size="7.75" text-anchor="middle" fill="#222" ><tspan font-style="italic">FLT3</tspan>-ITD MRD</text>
<text x="262.75" y="279.50" font-size="7.75" text-anchor="middle" fill="#222" ><tspan font-style="italic">NPM1</tspan> MRD</text>
<text x="317.25" y="279.50" font-size="7.75" text-anchor="middle" fill="#222" ><tspan font-style="italic">FLT3</tspan>-ITD MRD</text>
<text x="373.25" y="279.50" font-size="7.75" text-anchor="middle" fill="#222" ><tspan font-style="italic">NPM1</tspan> MRD</text>
<text x="430.00" y="279.50" font-size="7.75" text-anchor="middle" fill="#222" ><tspan font-style="italic">FLT3</tspan>-ITD MRD</text>
<text x="486.50" y="279.50" font-size="7.75" text-anchor="middle" fill="#222" ><tspan font-style="italic">NPM1</tspan> MRD</text>
<text x="207.00" y="294.20" font-size="7.75" text-anchor="middle" fill="#222" >4.70</text>
<text x="207.00" y="303.60" font-size="7.75" text-anchor="middle" fill="#222" >(1.12-5.17)</text>
<text x="262.75" y="294.20" font-size="7.75" text-anchor="middle" fill="#222" >5.94</text>
<text x="262.75" y="303.60" font-size="7.75" text-anchor="middle" fill="#222" >(1.67-7.56)</text>
<text x="317.25" y="294.20" font-size="7.75" text-anchor="middle" fill="#222" >4.73</text>
<text x="317.25" y="303.60" font-size="7.75" text-anchor="middle" fill="#222" >(1.55-5.17)</text>
<text x="373.25" y="294.20" font-size="7.75" text-anchor="middle" fill="#222" >6.31</text>
<text x="373.25" y="303.60" font-size="7.75" text-anchor="middle" fill="#222" >(0.71-7.84)</text>
<text x="430.00" y="294.20" font-size="7.75" text-anchor="middle" fill="#222" >4.71</text>
<text x="430.00" y="303.60" font-size="7.75" text-anchor="middle" fill="#222" >(−0.28-5.17)</text>
<text x="486.50" y="294.20" font-size="7.75" text-anchor="middle" fill="#222" >6.55</text>
<text x="486.50" y="303.60" font-size="7.75" text-anchor="middle" fill="#222" >(−0.47-7.84)</text>
<text x="12.50" y="295.00" font-size="7.75" fill="#222" >Median log<tspan font-size="4.8" dy="1.8">10</tspan><tspan dy="-1.8"> reduction</tspan></text>
<text x="12.50" y="304.00" font-size="7.75" fill="#222" >(range)</text>
<text x="207.00" y="324.40" font-size="7.75" text-anchor="middle" fill="#222" >74 (90)</text>
<text x="262.75" y="324.40" font-size="7.75" text-anchor="middle" fill="#222" >42 (51)</text>
<text x="317.25" y="324.40" font-size="7.75" text-anchor="middle" fill="#222" >70 (96)</text>
<text x="373.25" y="324.40" font-size="7.75" text-anchor="middle" fill="#222" >43 (59)</text>
<text x="430.00" y="324.40" font-size="7.75" text-anchor="middle" fill="#222" >91 (92)</text>
<text x="486.50" y="324.40" font-size="7.75" text-anchor="middle" fill="#222" >67 (68)</text>
<text x="207.00" y="348.60" font-size="7.75" text-anchor="middle" fill="#222" >8 (10)</text>
<text x="262.75" y="348.60" font-size="7.75" text-anchor="middle" fill="#222" >40 (49)</text>
<text x="317.25" y="348.60" font-size="7.75" text-anchor="middle" fill="#222" >3 (4)</text>
<text x="373.25" y="348.60" font-size="7.75" text-anchor="middle" fill="#222" >30 (41)</text>
<text x="430.00" y="348.60" font-size="7.75" text-anchor="middle" fill="#222" >8 (8)</text>
<text x="486.50" y="348.60" font-size="7.75" text-anchor="middle" fill="#222" >32 (32)</text>
<text x="12.50" y="324.60" font-size="7.75" fill="#222" >MRD<tspan font-size="5.3" dy="-2.8">neg</tspan><tspan dy="2.8"> patients, n (%)</tspan></text>
<text x="12.50" y="348.80" font-size="7.75" fill="#222" >MRD<tspan font-size="5.3" dy="-2.8">pos</tspan><tspan dy="2.8"> patients, n (%)</tspan></text>
<text x="12.50" y="369.80" font-size="7.75" fill="#222" ><tspan font-style="italic">FLT3</tspan>-ITD MRD<tspan font-size="5.3" dy="-2.8">neg</tspan><tspan dy="2.8">/</tspan><tspan font-style="italic">NPM1</tspan><tspan font-size="5.3" dy="-2.8">mut</tspan><tspan dy="2.8"> MRD</tspan><tspan font-size="5.3" dy="-2.8">neg</tspan><tspan dy="2.8"> pts, n (%)</tspan></text>
<text x="232.25" y="369.60" font-size="7.75" text-anchor="middle" fill="#222" >41 (50)</text>
<text x="344.00" y="369.60" font-size="7.75" text-anchor="middle" fill="#222" >43 (59)</text>
<text x="456.50" y="369.60" font-size="7.75" text-anchor="middle" fill="#222" >67 (68)</text>
<text transform="translate(43.6,399.6) scale(0.9,1)" font-size="11" font-weight="bold" fill="#111" stroke="#111" stroke-width="0.3">B</text>
<text transform="translate(277.4,399.5) scale(0.93,1)" font-size="11" font-weight="bold" fill="#111" stroke="#111" stroke-width="0.3">C</text>
<line x1="92.3" y1="403.5" x2="92.3" y2="525.0" stroke="#1a1a1a" stroke-width="1.4"/>
<line x1="91.6" y1="524.3" x2="262" y2="524.3" stroke="#1a1a1a" stroke-width="1.4"/>
<line x1="89.5" y1="408.80" x2="92.3" y2="408.80" stroke="#1a1a1a" stroke-width="1"/>
<text x="85.9" y="411.30" font-size="7.8" text-anchor="end" fill="#333">100%</text>
<line x1="89.5" y1="436.20" x2="92.3" y2="436.20" stroke="#1a1a1a" stroke-width="1"/>
<text x="85.9" y="438.70" font-size="7.8" text-anchor="end" fill="#333">75%</text>
<line x1="89.5" y1="463.60" x2="92.3" y2="463.60" stroke="#1a1a1a" stroke-width="1"/>
<text x="85.9" y="466.10" font-size="7.8" text-anchor="end" fill="#333">50%</text>
<line x1="89.5" y1="491.00" x2="92.3" y2="491.00" stroke="#1a1a1a" stroke-width="1"/>
<text x="85.9" y="493.50" font-size="7.8" text-anchor="end" fill="#333">25%</text>
<line x1="89.5" y1="518.40" x2="92.3" y2="518.40" stroke="#1a1a1a" stroke-width="1"/>
<text x="85.9" y="520.90" font-size="7.8" text-anchor="end" fill="#333">0%</text>
<line x1="100.00" y1="524.3" x2="100.00" y2="527.0999999999999" stroke="#1a1a1a" stroke-width="1"/>
<text x="100.00" y="536.6" font-size="7.7" text-anchor="middle" fill="#333">0</text>
<line x1="119.27" y1="524.3" x2="119.27" y2="527.0999999999999" stroke="#1a1a1a" stroke-width="1"/>
<text x="119.27" y="536.6" font-size="7.7" text-anchor="middle" fill="#333">1</text>
<line x1="138.54" y1="524.3" x2="138.54" y2="527.0999999999999" stroke="#1a1a1a" stroke-width="1"/>
<text x="138.54" y="536.6" font-size="7.7" text-anchor="middle" fill="#333">2</text>
<line x1="157.81" y1="524.3" x2="157.81" y2="527.0999999999999" stroke="#1a1a1a" stroke-width="1"/>
<text x="157.81" y="536.6" font-size="7.7" text-anchor="middle" fill="#333">3</text>
<line x1="177.08" y1="524.3" x2="177.08" y2="527.0999999999999" stroke="#1a1a1a" stroke-width="1"/>
<text x="177.08" y="536.6" font-size="7.7" text-anchor="middle" fill="#333">4</text>
<line x1="196.35" y1="524.3" x2="196.35" y2="527.0999999999999" stroke="#1a1a1a" stroke-width="1"/>
<text x="196.35" y="536.6" font-size="7.7" text-anchor="middle" fill="#333">5</text>
<line x1="215.62" y1="524.3" x2="215.62" y2="527.0999999999999" stroke="#1a1a1a" stroke-width="1"/>
<text x="215.62" y="536.6" font-size="7.7" text-anchor="middle" fill="#333">6</text>
<line x1="234.89" y1="524.3" x2="234.89" y2="527.0999999999999" stroke="#1a1a1a" stroke-width="1"/>
<text x="234.89" y="536.6" font-size="7.7" text-anchor="middle" fill="#333">7</text>
<line x1="254.16" y1="524.3" x2="254.16" y2="527.0999999999999" stroke="#1a1a1a" stroke-width="1"/>
<text x="254.16" y="536.6" font-size="7.7" text-anchor="middle" fill="#333">8</text>
<line x1="326.2" y1="403.2" x2="326.2" y2="524.9000000000001" stroke="#1a1a1a" stroke-width="1.4"/>
<line x1="325.5" y1="524.2" x2="493" y2="524.2" stroke="#1a1a1a" stroke-width="1.4"/>
<line x1="323.4" y1="408.80" x2="326.2" y2="408.80" stroke="#1a1a1a" stroke-width="1"/>
<text x="320.2" y="411.30" font-size="7.8" text-anchor="end" fill="#333">100%</text>
<line x1="323.4" y1="436.20" x2="326.2" y2="436.20" stroke="#1a1a1a" stroke-width="1"/>
<text x="320.2" y="438.70" font-size="7.8" text-anchor="end" fill="#333">75%</text>
<line x1="323.4" y1="463.60" x2="326.2" y2="463.60" stroke="#1a1a1a" stroke-width="1"/>
<text x="320.2" y="466.10" font-size="7.8" text-anchor="end" fill="#333">50%</text>
<line x1="323.4" y1="491.00" x2="326.2" y2="491.00" stroke="#1a1a1a" stroke-width="1"/>
<text x="320.2" y="493.50" font-size="7.8" text-anchor="end" fill="#333">25%</text>
<line x1="323.4" y1="518.40" x2="326.2" y2="518.40" stroke="#1a1a1a" stroke-width="1"/>
<text x="320.2" y="520.90" font-size="7.8" text-anchor="end" fill="#333">0%</text>
<line x1="333.70" y1="524.2" x2="333.70" y2="527.0" stroke="#1a1a1a" stroke-width="1"/>
<text x="333.70" y="536.6" font-size="7.7" text-anchor="middle" fill="#333">0</text>
<line x1="352.98" y1="524.2" x2="352.98" y2="527.0" stroke="#1a1a1a" stroke-width="1"/>
<text x="352.98" y="536.6" font-size="7.7" text-anchor="middle" fill="#333">1</text>
<line x1="372.26" y1="524.2" x2="372.26" y2="527.0" stroke="#1a1a1a" stroke-width="1"/>
<text x="372.26" y="536.6" font-size="7.7" text-anchor="middle" fill="#333">2</text>
<line x1="391.54" y1="524.2" x2="391.54" y2="527.0" stroke="#1a1a1a" stroke-width="1"/>
<text x="391.54" y="536.6" font-size="7.7" text-anchor="middle" fill="#333">3</text>
<line x1="410.82" y1="524.2" x2="410.82" y2="527.0" stroke="#1a1a1a" stroke-width="1"/>
<text x="410.82" y="536.6" font-size="7.7" text-anchor="middle" fill="#333">4</text>
<line x1="430.10" y1="524.2" x2="430.10" y2="527.0" stroke="#1a1a1a" stroke-width="1"/>
<text x="430.10" y="536.6" font-size="7.7" text-anchor="middle" fill="#333">5</text>
<line x1="449.38" y1="524.2" x2="449.38" y2="527.0" stroke="#1a1a1a" stroke-width="1"/>
<text x="449.38" y="536.6" font-size="7.7" text-anchor="middle" fill="#333">6</text>
<line x1="468.66" y1="524.2" x2="468.66" y2="527.0" stroke="#1a1a1a" stroke-width="1"/>
<text x="468.66" y="536.6" font-size="7.7" text-anchor="middle" fill="#333">7</text>
<line x1="487.94" y1="524.2" x2="487.94" y2="527.0" stroke="#1a1a1a" stroke-width="1"/>
<text x="487.94" y="536.6" font-size="7.7" text-anchor="middle" fill="#333">8</text>
<text transform="translate(58.4,463.9) rotate(-90)" font-size="8.3" text-anchor="middle" fill="#222" stroke="#222" stroke-width="0.15" textLength="93.3" lengthAdjust="spacingAndGlyphs">Cumulative incidence of relapse</text>
<text transform="translate(292.8,465.5) rotate(-90)" font-size="8.3" text-anchor="middle" fill="#222" stroke="#222" stroke-width="0.15" textLength="47.4" lengthAdjust="spacingAndGlyphs">Overall survival</text>
<text x="177" y="550" font-size="8.3" text-anchor="middle" fill="#222" stroke="#222" stroke-width="0.15" textLength="78.5" lengthAdjust="spacingAndGlyphs">Time since CR/CRi [years]</text>
<text x="410.8" y="549.8" font-size="8.3" text-anchor="middle" fill="#222" stroke="#222" stroke-width="0.15" textLength="64" lengthAdjust="spacingAndGlyphs">Time from CR [years]</text>
<path d="M100.40,518.40 L109.20,518.40 L109.20,515.50 L111.60,515.50 L111.60,512.20 L118.80,512.20 L118.80,505.30 L128.10,505.30 L128.10,501.20 L151.90,501.20 L151.90,496.30 L244.20,496.30" fill="none" stroke="#8582c2" stroke-width="1.1" stroke-linejoin="miter"/>
<line x1="129.60" y1="499.60" x2="129.60" y2="502.80" stroke="#8582c2" stroke-width="0.8"/>
<line x1="132.70" y1="499.60" x2="132.70" y2="502.80" stroke="#8582c2" stroke-width="0.8"/>
<line x1="135.30" y1="499.60" x2="135.30" y2="502.80" stroke="#8582c2" stroke-width="0.8"/>
<line x1="139.60" y1="499.60" x2="139.60" y2="502.80" stroke="#8582c2" stroke-width="0.8"/>
<line x1="143.50" y1="499.60" x2="143.50" y2="502.80" stroke="#8582c2" stroke-width="0.8"/>
<line x1="146.50" y1="499.60" x2="146.50" y2="502.80" stroke="#8582c2" stroke-width="0.8"/>
<line x1="154.80" y1="494.70" x2="154.80" y2="497.90" stroke="#8582c2" stroke-width="0.8"/>
<line x1="163.50" y1="494.70" x2="163.50" y2="497.90" stroke="#8582c2" stroke-width="0.8"/>
<line x1="165.40" y1="494.70" x2="165.40" y2="497.90" stroke="#8582c2" stroke-width="0.8"/>
<line x1="167.70" y1="494.70" x2="167.70" y2="497.90" stroke="#8582c2" stroke-width="0.8"/>
<line x1="173.50" y1="494.70" x2="173.50" y2="497.90" stroke="#8582c2" stroke-width="0.8"/>
<line x1="191.30" y1="494.70" x2="191.30" y2="497.90" stroke="#8582c2" stroke-width="0.8"/>
<line x1="198.10" y1="494.70" x2="198.10" y2="497.90" stroke="#8582c2" stroke-width="0.8"/>
<line x1="206.70" y1="494.70" x2="206.70" y2="497.90" stroke="#8582c2" stroke-width="0.8"/>
<line x1="219.20" y1="494.70" x2="219.20" y2="497.90" stroke="#8582c2" stroke-width="0.8"/>
<line x1="232.70" y1="494.70" x2="232.70" y2="497.90" stroke="#8582c2" stroke-width="0.8"/>
<line x1="237.50" y1="494.70" x2="237.50" y2="497.90" stroke="#8582c2" stroke-width="0.8"/>
<line x1="244.00" y1="494.70" x2="244.00" y2="497.90" stroke="#8582c2" stroke-width="0.8"/>
<path d="M100.40,518.40 L140.40,518.40 L140.40,515.30 L170.50,515.30 L170.50,510.30 L206.20,510.30 L206.20,484.80 L219.80,484.80" fill="none" stroke="#379139" stroke-width="1.1" stroke-linejoin="miter"/>
<line x1="126.50" y1="516.80" x2="126.50" y2="520.00" stroke="#379139" stroke-width="0.8"/>
<line x1="131.90" y1="516.80" x2="131.90" y2="520.00" stroke="#379139" stroke-width="0.8"/>
<line x1="135.30" y1="516.80" x2="135.30" y2="520.00" stroke="#379139" stroke-width="0.8"/>
<line x1="142.70" y1="513.70" x2="142.70" y2="516.90" stroke="#379139" stroke-width="0.8"/>
<line x1="145.80" y1="513.70" x2="145.80" y2="516.90" stroke="#379139" stroke-width="0.8"/>
<line x1="148.10" y1="513.70" x2="148.10" y2="516.90" stroke="#379139" stroke-width="0.8"/>
<line x1="152.90" y1="513.70" x2="152.90" y2="516.90" stroke="#379139" stroke-width="0.8"/>
<line x1="158.70" y1="513.70" x2="158.70" y2="516.90" stroke="#379139" stroke-width="0.8"/>
<line x1="161.50" y1="513.70" x2="161.50" y2="516.90" stroke="#379139" stroke-width="0.8"/>
<line x1="165.40" y1="513.70" x2="165.40" y2="516.90" stroke="#379139" stroke-width="0.8"/>
<line x1="173.10" y1="508.70" x2="173.10" y2="511.90" stroke="#379139" stroke-width="0.8"/>
<line x1="178.80" y1="508.70" x2="178.80" y2="511.90" stroke="#379139" stroke-width="0.8"/>
<line x1="182.70" y1="508.70" x2="182.70" y2="511.90" stroke="#379139" stroke-width="0.8"/>
<line x1="188.50" y1="508.70" x2="188.50" y2="511.90" stroke="#379139" stroke-width="0.8"/>
<line x1="193.30" y1="508.70" x2="193.30" y2="511.90" stroke="#379139" stroke-width="0.8"/>
<line x1="198.10" y1="508.70" x2="198.10" y2="511.90" stroke="#379139" stroke-width="0.8"/>
<line x1="202.90" y1="508.70" x2="202.90" y2="511.90" stroke="#379139" stroke-width="0.8"/>
<line x1="209.60" y1="483.20" x2="209.60" y2="486.40" stroke="#379139" stroke-width="0.8"/>
<line x1="214.40" y1="483.20" x2="214.40" y2="486.40" stroke="#379139" stroke-width="0.8"/>
<line x1="218.30" y1="483.20" x2="218.30" y2="486.40" stroke="#379139" stroke-width="0.8"/>
<path d="M100.40,518.40 L106.50,518.40 L106.50,503.20 L111.20,503.20 L111.20,487.30 L119.20,487.30 L119.20,471.50 L122.40,471.50 L122.40,455.70 L180.40,455.70" fill="none" stroke="#eea542" stroke-width="1.45" stroke-linejoin="miter"/>
<line x1="180.00" y1="454.10" x2="180.00" y2="457.30" stroke="#eea542" stroke-width="0.8"/>
<path d="M333.70,408.80 L351.80,408.80 L351.80,411.70 L353.30,411.70 L353.30,414.80 L360.80,414.80 L360.80,417.80 L362.20,417.80 L362.20,421.20 L364.20,421.20 L364.20,424.70 L366.20,424.70 L366.20,428.70 L395.70,428.70 L395.70,434.20 L416.50,434.20 L416.50,443.30 L424.20,443.30 L424.20,452.90 L478.70,452.90" fill="none" stroke="#8582c2" stroke-width="1.1" stroke-linejoin="miter"/>
<line x1="371.00" y1="427.10" x2="371.00" y2="430.30" stroke="#8582c2" stroke-width="0.8"/>
<line x1="377.00" y1="427.10" x2="377.00" y2="430.30" stroke="#8582c2" stroke-width="0.8"/>
<line x1="383.00" y1="427.10" x2="383.00" y2="430.30" stroke="#8582c2" stroke-width="0.8"/>
<line x1="393.00" y1="427.10" x2="393.00" y2="430.30" stroke="#8582c2" stroke-width="0.8"/>
<line x1="400.00" y1="432.60" x2="400.00" y2="435.80" stroke="#8582c2" stroke-width="0.8"/>
<line x1="405.00" y1="432.60" x2="405.00" y2="435.80" stroke="#8582c2" stroke-width="0.8"/>
<line x1="427.00" y1="451.30" x2="427.00" y2="454.50" stroke="#8582c2" stroke-width="0.8"/>
<line x1="441.00" y1="451.30" x2="441.00" y2="454.50" stroke="#8582c2" stroke-width="0.8"/>
<line x1="451.00" y1="451.30" x2="451.00" y2="454.50" stroke="#8582c2" stroke-width="0.8"/>
<line x1="456.00" y1="451.30" x2="456.00" y2="454.50" stroke="#8582c2" stroke-width="0.8"/>
<line x1="467.00" y1="451.30" x2="467.00" y2="454.50" stroke="#8582c2" stroke-width="0.8"/>
<line x1="472.00" y1="451.30" x2="472.00" y2="454.50" stroke="#8582c2" stroke-width="0.8"/>
<line x1="478.00" y1="451.30" x2="478.00" y2="454.50" stroke="#8582c2" stroke-width="0.8"/>
<path d="M333.70,408.80 L343.50,408.80 L343.50,410.50 L347.50,410.50 L347.50,412.80 L350.50,412.80 L350.50,418.80 L360.40,418.80 L360.40,421.20 L363.80,421.20 L363.80,424.70 L387.20,424.70 L387.20,428.50 L404.20,428.50 L404.20,433.70 L412.30,433.70 L412.30,439.40 L444.60,439.40 L444.60,465.80 L453.70,465.80" fill="none" stroke="#379139" stroke-width="1.1" stroke-linejoin="miter"/>
<line x1="369.00" y1="423.10" x2="369.00" y2="426.30" stroke="#379139" stroke-width="0.8"/>
<line x1="373.00" y1="423.10" x2="373.00" y2="426.30" stroke="#379139" stroke-width="0.8"/>
<line x1="378.00" y1="423.10" x2="378.00" y2="426.30" stroke="#379139" stroke-width="0.8"/>
<line x1="383.00" y1="423.10" x2="383.00" y2="426.30" stroke="#379139" stroke-width="0.8"/>
<line x1="390.00" y1="426.90" x2="390.00" y2="430.10" stroke="#379139" stroke-width="0.8"/>
<line x1="397.00" y1="426.90" x2="397.00" y2="430.10" stroke="#379139" stroke-width="0.8"/>
<line x1="407.00" y1="432.10" x2="407.00" y2="435.30" stroke="#379139" stroke-width="0.8"/>
<line x1="418.00" y1="437.80" x2="418.00" y2="441.00" stroke="#379139" stroke-width="0.8"/>
<line x1="423.00" y1="437.80" x2="423.00" y2="441.00" stroke="#379139" stroke-width="0.8"/>
<line x1="429.00" y1="437.80" x2="429.00" y2="441.00" stroke="#379139" stroke-width="0.8"/>
<line x1="434.00" y1="437.80" x2="434.00" y2="441.00" stroke="#379139" stroke-width="0.8"/>
<line x1="439.00" y1="437.80" x2="439.00" y2="441.00" stroke="#379139" stroke-width="0.8"/>
<line x1="448.00" y1="464.20" x2="448.00" y2="467.40" stroke="#379139" stroke-width="0.8"/>
<line x1="451.00" y1="464.20" x2="451.00" y2="467.40" stroke="#379139" stroke-width="0.8"/>
<path d="M333.70,408.80 L351.60,408.80 L351.60,423.80 L353.00,423.80 L353.00,440.00 L355.40,440.00 L355.40,455.40 L361.30,455.40 L361.30,471.50 L371.20,471.50 L371.20,487.20 L419.60,487.20" fill="none" stroke="#eea542" stroke-width="1.45" stroke-linejoin="miter"/>
<line x1="380.00" y1="485.60" x2="380.00" y2="488.80" stroke="#eea542" stroke-width="0.8"/>
<line x1="419.00" y1="485.60" x2="419.00" y2="488.80" stroke="#eea542" stroke-width="0.8"/>
<text x="92.6" y="562" font-size="7.8" fill="#222" textLength="132.4" lengthAdjust="spacingAndGlyphs"><tspan font-style="italic">FLT3</tspan>–ITD/<tspan font-style="italic">NPM1</tspan>mut (PB) MRD status</text>
<text x="24.3" y="574.0" font-size="7.7" fill="#45a845">ITDneg,<tspan font-style="italic">NPM1</tspan>neg</text>
<text x="24.3" y="585.2" font-size="7.7" fill="#8f8bd0">ITDneg,<tspan font-style="italic">NPM1</tspan>pos</text>
<text x="24.3" y="597.1" font-size="7.7" fill="#eea542">ITDpos,<tspan font-style="italic">NPM1</tspan>pos</text>
<text x="100.00" y="574.0" font-size="7.7" text-anchor="middle" fill="#222">41</text>
<text x="333.70" y="574.0" font-size="7.7" text-anchor="middle" fill="#222">41</text>
<text x="119.27" y="574.0" font-size="7.7" text-anchor="middle" fill="#222">37</text>
<text x="352.98" y="574.0" font-size="7.7" text-anchor="middle" fill="#222">37</text>
<text x="138.54" y="574.0" font-size="7.7" text-anchor="middle" fill="#222">31</text>
<text x="372.26" y="574.0" font-size="7.7" text-anchor="middle" fill="#222">32</text>
<text x="157.81" y="574.0" font-size="7.7" text-anchor="middle" fill="#222">20</text>
<text x="391.54" y="574.0" font-size="7.7" text-anchor="middle" fill="#222">21</text>
<text x="177.08" y="574.0" font-size="7.7" text-anchor="middle" fill="#222">13</text>
<text x="410.82" y="574.0" font-size="7.7" text-anchor="middle" fill="#222">15</text>
<text x="196.35" y="574.0" font-size="7.7" text-anchor="middle" fill="#222">5</text>
<text x="430.10" y="574.0" font-size="7.7" text-anchor="middle" fill="#222">6</text>
<text x="215.62" y="574.0" font-size="7.7" text-anchor="middle" fill="#222">1</text>
<text x="449.38" y="574.0" font-size="7.7" text-anchor="middle" fill="#222">1</text>
<text x="234.89" y="574.0" font-size="7.7" text-anchor="middle" fill="#222">0</text>
<text x="468.66" y="574.0" font-size="7.7" text-anchor="middle" fill="#222">0</text>
<text x="254.16" y="574.0" font-size="7.7" text-anchor="middle" fill="#222">0</text>
<text x="487.94" y="574.0" font-size="7.7" text-anchor="middle" fill="#222">0</text>
<text x="100.00" y="585.2" font-size="7.7" text-anchor="middle" fill="#222">33</text>
<text x="333.70" y="585.2" font-size="7.7" text-anchor="middle" fill="#222">33</text>
<text x="119.27" y="585.2" font-size="7.7" text-anchor="middle" fill="#222">29</text>
<text x="352.98" y="585.2" font-size="7.7" text-anchor="middle" fill="#222">32</text>
<text x="138.54" y="585.2" font-size="7.7" text-anchor="middle" fill="#222">22</text>
<text x="372.26" y="585.2" font-size="7.7" text-anchor="middle" fill="#222">25</text>
<text x="157.81" y="585.2" font-size="7.7" text-anchor="middle" fill="#222">14</text>
<text x="391.54" y="585.2" font-size="7.7" text-anchor="middle" fill="#222">16</text>
<text x="177.08" y="585.2" font-size="7.7" text-anchor="middle" fill="#222">8</text>
<text x="410.82" y="585.2" font-size="7.7" text-anchor="middle" fill="#222">10</text>
<text x="196.35" y="585.2" font-size="7.7" text-anchor="middle" fill="#222">6</text>
<text x="430.10" y="585.2" font-size="7.7" text-anchor="middle" fill="#222">6</text>
<text x="215.62" y="585.2" font-size="7.7" text-anchor="middle" fill="#222">4</text>
<text x="449.38" y="585.2" font-size="7.7" text-anchor="middle" fill="#222">5</text>
<text x="234.89" y="585.2" font-size="7.7" text-anchor="middle" fill="#222">2</text>
<text x="468.66" y="585.2" font-size="7.7" text-anchor="middle" fill="#222">2</text>
<text x="254.16" y="585.2" font-size="7.7" text-anchor="middle" fill="#222">0</text>
<text x="487.94" y="585.2" font-size="7.7" text-anchor="middle" fill="#222">0</text>
<text x="100.00" y="597.1" font-size="7.7" text-anchor="middle" fill="#222">7</text>
<text x="333.70" y="597.1" font-size="7.7" text-anchor="middle" fill="#222">7</text>
<text x="119.27" y="597.1" font-size="7.7" text-anchor="middle" fill="#222">3</text>
<text x="352.98" y="597.1" font-size="7.7" text-anchor="middle" fill="#222">6</text>
<text x="138.54" y="597.1" font-size="7.7" text-anchor="middle" fill="#222">1</text>
<text x="372.26" y="597.1" font-size="7.7" text-anchor="middle" fill="#222">2</text>
<text x="157.81" y="597.1" font-size="7.7" text-anchor="middle" fill="#222">1</text>
<text x="391.54" y="597.1" font-size="7.7" text-anchor="middle" fill="#222">1</text>
<text x="177.08" y="597.1" font-size="7.7" text-anchor="middle" fill="#222">1</text>
<text x="410.82" y="597.1" font-size="7.7" text-anchor="middle" fill="#222">1</text>
<text x="196.35" y="597.1" font-size="7.7" text-anchor="middle" fill="#222">0</text>
<text x="430.10" y="597.1" font-size="7.7" text-anchor="middle" fill="#222">0</text>
<text x="215.62" y="597.1" font-size="7.7" text-anchor="middle" fill="#222">0</text>
<text x="449.38" y="597.1" font-size="7.7" text-anchor="middle" fill="#222">0</text>
<text x="234.89" y="597.1" font-size="7.7" text-anchor="middle" fill="#222">0</text>
<text x="468.66" y="597.1" font-size="7.7" text-anchor="middle" fill="#222">0</text>
<text x="254.16" y="597.1" font-size="7.7" text-anchor="middle" fill="#222">0</text>
<text x="487.94" y="597.1" font-size="7.7" text-anchor="middle" fill="#222">0</text>
<rect x="0.5" y="0.5" width="519" height="606" fill="none" stroke="#6e6e6e" stroke-width="1"/>
</svg>
</body></html>
